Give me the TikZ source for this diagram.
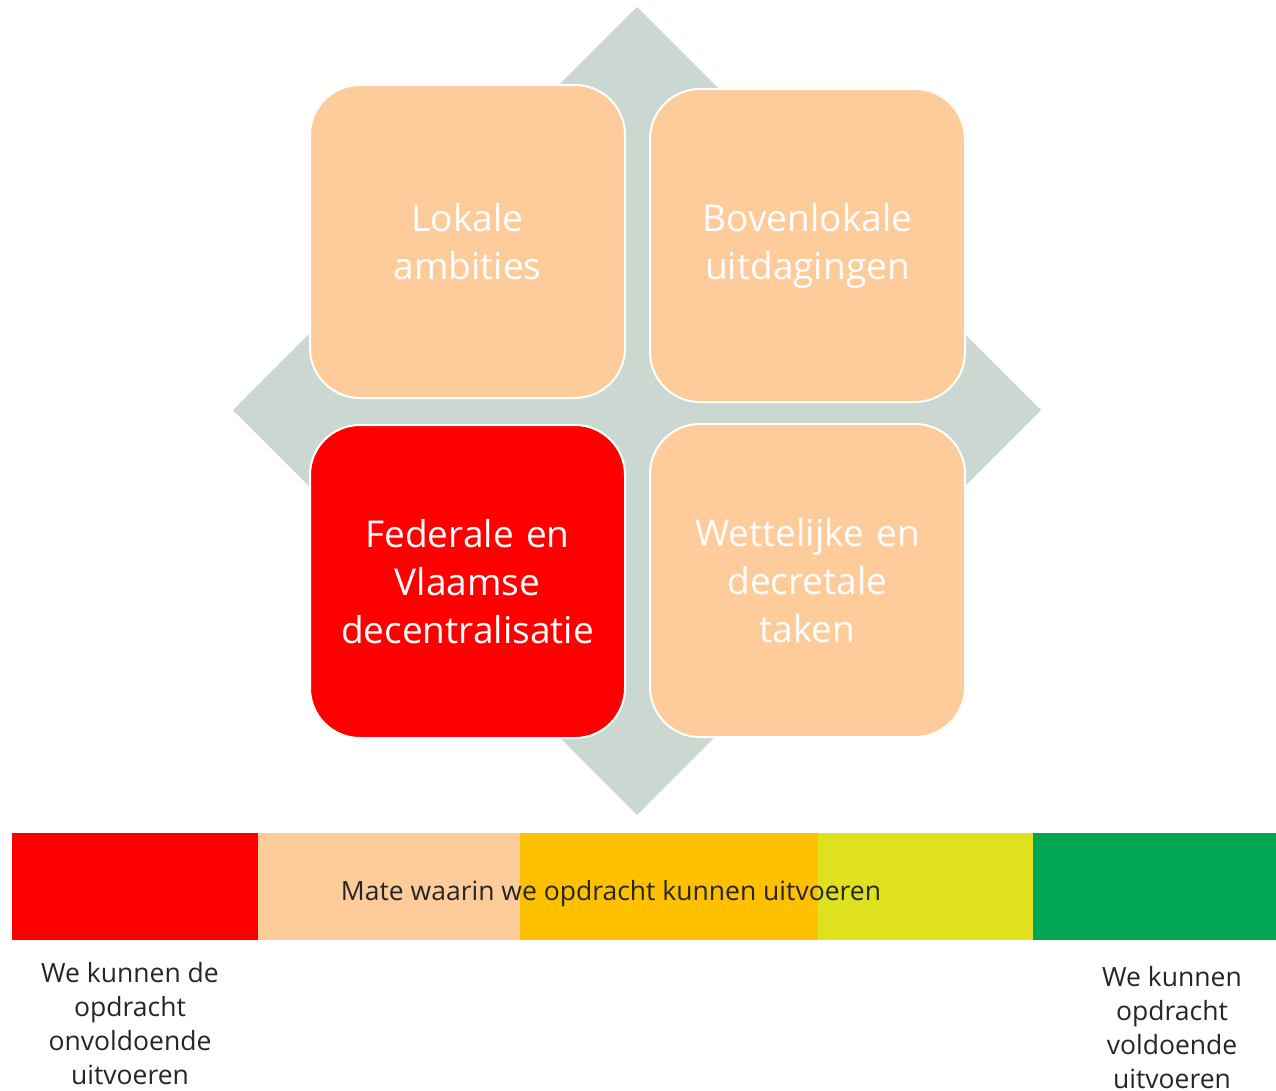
\documentclass[tikz,border=0pt]{standalone}
\usepackage{fontspec}
\setmainfont{Open Sans}
\usetikzlibrary{positioning}
\definecolor{quadgray}{HTML}{CBD8D2}
\definecolor{peach}{HTML}{FECB9A}
\definecolor{barorange}{HTML}{FFC000}
\definecolor{baryellow}{HTML}{DFE01E}
\definecolor{bargreen}{HTML}{00A651}
\definecolor{txtgray}{HTML}{262626}

\begin{document}
\begin{tikzpicture}[x=1pt, y=-1pt,
  tile/.style = {draw=white, line width=2pt, rounded corners=50pt,
                 minimum width=315pt, minimum height=313pt, inner sep=0pt,
                 text width=300pt, align=center, text=white,
                 font=\fontsize{37}{48}\selectfont},
   seg/.style = {anchor=north west, minimum height=107pt, inner sep=0pt},
  note/.style = {align=center, text=txtgray, inner sep=0pt,
                 font=\fontsize{26.5}{34}\selectfont}
                    ]
\useasboundingbox (0,0) rectangle (1276,1090);
% background diamond
\fill[quadgray] (637,7) -- (1041,410) -- (637,815) -- (233,410) -- cycle;
% four tiles
\node (lokaal)   [tile, fill=peach] at (467.5,241.5) {Lokale\\ambities};
\node (bovenlok) [tile, fill=peach] at (807.5,245.5) {Bovenlokale\\uitdagingen};
\node (federaal) [tile, fill=red]   at (467.5,581.5) {Federale en\\Vlaamse\\decentralisatie};
\node (wettelijk)[tile, fill=peach] at (807.5,580.5) {Wettelijke en\\decretale\\taken};
% scale bar
\foreach \i/\xa/\xb/\c in {1/12/258/red, 2/258/520/peach, 3/520/818/barorange,
                           4/818/1033/baryellow, 5/1033/1276/bargreen}
  \node (seg\i) [seg, fill=\c, minimum width={\xb-\xa}] at (\xa,833) {};
\node (mate) [note] at (611,894) {Mate waarin we opdracht kunnen uitvoeren};
\node (onvold) [note] at (130,1024) {We kunnen de\\opdracht\\onvoldoende\\uitvoeren};
\node (vold)   [note] at (1172,1027.5) {We kunnen\\opdracht\\voldoende\\uitvoeren};
\end{tikzpicture}
\end{document}
